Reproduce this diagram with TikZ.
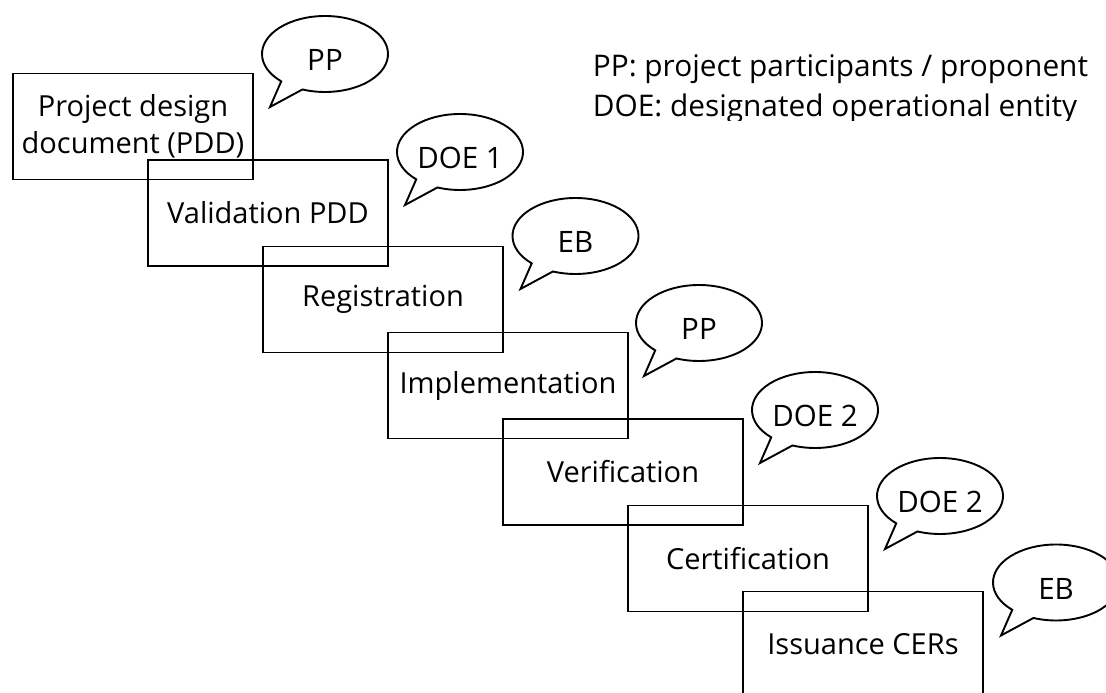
\documentclass[tikz,border=0pt]{standalone}
\usepackage{fontspec}
\setmainfont{Open Sans}
\usetikzlibrary{calc}
\begin{document}
\begin{tikzpicture}[x=1pt,y=-1pt,line width=1.9pt,
  stage/.style={draw, minimum width=240pt, minimum height=106pt, inner sep=0pt, align=center, font=\fontsize{29}{37}\selectfont},
  bubtext/.style={inner sep=0pt, font=\fontsize{29.5}{37}\selectfont},
  legend/.style={anchor=base west, inner sep=0pt, font=\fontsize{29.8}{37}\selectfont}]
\useasboundingbox (0,0) rectangle (1106,693);
\newcommand\mycallout[3]{%
  \coordinate (#1) at (#2);
  \node[bubtext] (#1t) at ($(#1)+(0,6)$) {#3};
  \draw (#1) ++(134:63 and 38) arc[start angle=134, end angle=471, x radius=63, y radius=38] -- ($(#1)+(-55,53)$) -- cycle;}
% stages
\node[stage] (s1) at (133,126.5) {Project design\\document (PDD)};
\node[stage] (s2) at (268,213) {Validation PDD};
\node[stage] (s3) at (383,299.5) {Registration};
\node[stage] (s4) at (508,385.5) {Implementation};
\node[stage] (s5) at (623,472) {Verification};
\node[stage] (s6) at (748,558.5) {Certification};
\node[stage] (s7) at (863,644.5) {Issuance CERs};
% callouts
\mycallout{c1}{325,54}{PP}
\mycallout{c2}{460,152}{DOE 1}
\mycallout{c3}{575.5,236}{EB}
\mycallout{c4}{699,323}{PP}
\mycallout{c5}{815,410}{DOE 2}
\mycallout{c6}{940,496}{DOE 2}
\mycallout{c7}{1056,582.5}{EB}
% legend
\begin{scope}
\clip (560,0) rectangle (1106,120);
\node[legend] (l1) at (592,77) {PP: project participants / proponent};
\node[legend] (l2) at (592,116) {DOE: designated operational entity};
\end{scope}
\end{tikzpicture}
\end{document}
